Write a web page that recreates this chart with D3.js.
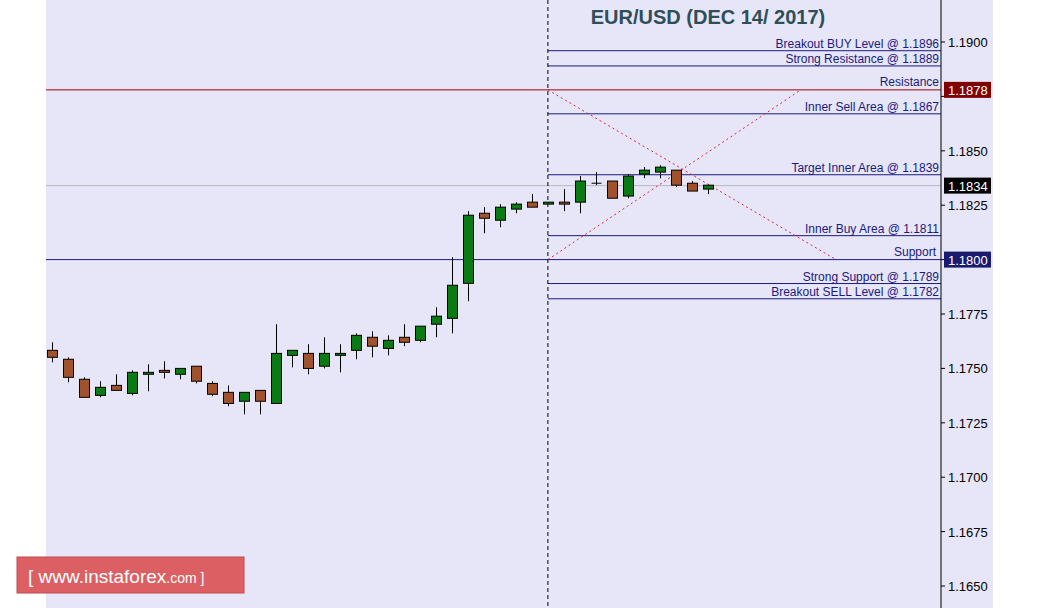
<!DOCTYPE html>
<html>
<head>
<meta charset="utf-8">
<script src="https://cdn.jsdelivr.net/npm/d3@7"></script>
<style>
body { margin: 0; background: #fff; }
text { font-family: "Liberation Sans", Arial, sans-serif; }
</style>
</head>
<body>
<svg id="chart" width="1052" height="608"></svg>
<script>
// candles (open, high, low, close)
var opens  = [1.17583,1.17542,1.17450,1.17376,1.17422,1.17385,1.17473,1.17491,1.17473,1.17510,1.17431,1.17390,1.17349,1.17399,1.17339,1.17560,1.17569,1.17510,1.17560,1.17583,1.17643,1.17592,1.17643,1.17629,1.17703,1.17730,1.17891,1.18213,1.18181,1.18232,1.18264,1.18255,1.18264,1.18264,1.18351,1.18361,1.18292,1.18393,1.18402,1.18411,1.18351,1.18324];
var highs  = [1.17620,1.17551,1.17459,1.17441,1.17473,1.17491,1.17519,1.17533,1.17500,1.17510,1.17441,1.17422,1.17390,1.17399,1.17703,1.17583,1.17611,1.17643,1.17611,1.17661,1.17671,1.17652,1.17703,1.17694,1.17781,1.18011,1.18223,1.18241,1.18255,1.18264,1.18301,1.18264,1.18324,1.18384,1.18402,1.18361,1.18393,1.18425,1.18434,1.18411,1.18361,1.18342];
var lows   = [1.17528,1.17436,1.17367,1.17367,1.17399,1.17376,1.17395,1.17454,1.17450,1.17431,1.17372,1.17326,1.17289,1.17289,1.17339,1.17505,1.17473,1.17500,1.17482,1.17542,1.17551,1.17560,1.17602,1.17620,1.17643,1.17661,1.17809,1.18121,1.18149,1.18213,1.18241,1.18255,1.18223,1.18213,1.18342,1.18282,1.18282,1.18374,1.18374,1.18333,1.18315,1.18301];
var closes = [1.17551,1.17459,1.17367,1.17413,1.17399,1.17482,1.17482,1.17482,1.17500,1.17441,1.17381,1.17339,1.17390,1.17349,1.17569,1.17583,1.17500,1.17569,1.17569,1.17652,1.17602,1.17629,1.17620,1.17694,1.17740,1.17882,1.18204,1.18190,1.18241,1.18255,1.18241,1.18264,1.18255,1.18361,1.18351,1.18282,1.18384,1.18411,1.18425,1.18342,1.18315,1.18342];

var levelNames  = ["Breakout BUY Level @ 1.1896","Strong Resistance @  1.1889","Inner Sell Area @ 1.1867","Target Inner Area @ 1.1839","Inner Buy Area  @ 1.1811","Strong Support  @  1.1789","Breakout SELL Level  @ 1.1782"];
var levelPrices = [1.1896,1.1889,1.1867,1.1839,1.1811,1.1789,1.1782];
var priceTicks  = [1.1650,1.1675,1.1700,1.1725,1.1750,1.1775,1.1800,1.1825,1.1850,1.1875,1.1900];
var resistance = 1.1878, support = 1.1800, lastPrice = 1.1834;
var splitIndex = 31;
var crossA = [[31, 1.1878], [49, 1.1800]];
var crossB = [[31, 1.1800], [46.8, 1.1878]];

var svg = d3.select("#chart");
var left = 46, axisX = 941, right = 993;
var x = d3.scaleLinear().domain([-0.36, 55.5]).range([left, axisX - 1]);
var y = d3.scaleLinear().domain([1.165, 1.19]).range([586, 42]);

svg.append("rect").attr("x", left).attr("y", 0).attr("width", right - left).attr("height", 608).attr("fill", "#e6e6f8");

// full-width lines
svg.append("line").attr("x1", left).attr("x2", axisX).attr("y1", y(lastPrice)).attr("y2", y(lastPrice)).attr("stroke", "#b8b8c0");
svg.append("line").attr("x1", left).attr("x2", axisX).attr("y1", y(resistance)).attr("y2", y(resistance)).attr("stroke", "#a00000");
svg.append("line").attr("x1", left).attr("x2", axisX).attr("y1", y(support)).attr("y2", y(support)).attr("stroke", "#1a1a80");

// levels
levelPrices.forEach(function(p, i) {
    svg.append("line").attr("x1", x(splitIndex)).attr("x2", axisX).attr("y1", y(p)).attr("y2", y(p)).attr("stroke", "#1a1a80");
    svg.append("text").attr("x", 939).attr("y", y(p) - 3).attr("text-anchor", "end")
        .attr("font-size", 12).attr("fill", "#1a1a80").text(levelNames[i]);
});
svg.append("text").attr("x", 939).attr("y", y(resistance) - 4).attr("text-anchor", "end").attr("font-size", 12).attr("fill", "#1a1a80").text("Resistance");
svg.append("text").attr("x", 936).attr("y", y(support) - 4).attr("text-anchor", "end").attr("font-size", 12).attr("fill", "#1a1a80").text("Support");

// dotted cross
[crossA, crossB].forEach(function(seg) {
    svg.append("line").attr("x1", x(seg[0][0])).attr("y1", y(seg[0][1])).attr("x2", x(seg[1][0])).attr("y2", y(seg[1][1]))
        .attr("stroke", "#e02040").attr("stroke-dasharray", "2,3");
});

svg.append("line").attr("x1", x(splitIndex)).attr("x2", x(splitIndex)).attr("y1", 0).attr("y2", 608)
    .attr("stroke", "#000").attr("stroke-dasharray", "4,3");

// candles
var g = svg.append("g");
opens.forEach(function(o, i) {
    var c = closes[i], cx = Math.round(x(i)) + 0.5;
    g.append("line").attr("x1", cx).attr("x2", cx).attr("y1", y(highs[i])).attr("y2", y(lows[i])).attr("stroke", "#000");
    var top = y(Math.max(o, c)), h = Math.max(1, y(Math.min(o, c)) - top);
    if (Math.abs(o - c) < 0.00002) {
        g.append("line").attr("x1", cx - 5).attr("x2", cx + 5).attr("y1", top).attr("y2", top).attr("stroke", "#000");
    } else {
        g.append("rect").attr("x", cx - 5).attr("y", top).attr("width", 10).attr("height", h)
            .attr("fill", c > o ? "#0a7a14" : "#a0522d").attr("stroke", "#000");
    }
});

// axis (the 1.1875 label sits under the resistance badge, as in the source)
svg.append("line").attr("x1", axisX).attr("x2", axisX).attr("y1", 0).attr("y2", 608).attr("stroke", "#000");
priceTicks.forEach(function(p) {
    svg.append("line").attr("x1", axisX).attr("x2", axisX + 4).attr("y1", y(p)).attr("y2", y(p)).attr("stroke", "#000");
    if (Math.abs(p - resistance) > 0.0005)
        svg.append("text").attr("x", 948).attr("y", y(p) + 5).attr("font-size", 13).attr("fill", "#000").text(p.toFixed(4));
});
[[resistance, "#800000"], [lastPrice, "#000"], [support, "#1a1a6e"]].forEach(function(b) {
    svg.append("rect").attr("x", 944).attr("y", y(b[0]) - 8).attr("width", 47).attr("height", 16).attr("fill", b[1]);
    svg.append("text").attr("x", 948).attr("y", y(b[0]) + 5).attr("font-size", 13).attr("fill", "#fff").text(b[0].toFixed(4));
});

svg.append("text").attr("x", 708).attr("y", 24).attr("text-anchor", "middle").attr("font-size", 20)
    .attr("font-weight", "bold").attr("fill", "#2f4f58").text("EUR/USD (DEC 14/ 2017)");

// watermark
svg.append("rect").attr("x", 17).attr("y", 557).attr("width", 227).attr("height", 36).attr("fill", "#dc5f63").attr("stroke", "#c04a50");
var wm = svg.append("text").attr("x", 28).attr("y", 583).attr("font-size", 19).attr("fill", "#fff");
wm.append("tspan").text("[  www.instaforex");
wm.append("tspan").attr("font-size", 14).text(".com ]");
</script>
</body>
</html>
